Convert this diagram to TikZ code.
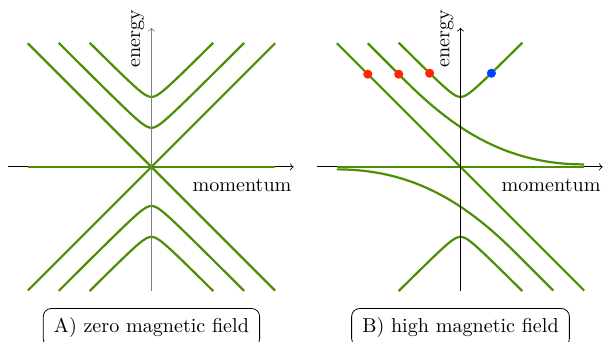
\documentclass[tikz,border=0pt]{standalone}
\usepackage{tikz}
\usetikzlibrary{positioning,calc}
\definecolor{bandgreen}{RGB}{78,142,6}
\definecolor{dotred}{RGB}{255,38,0}
\definecolor{dotblue}{RGB}{0,64,255}

\begin{document}
\begin{tikzpicture}[
x=0.54cm, y=0.54cm,
band/.style={
  draw=bandgreen,
  line width=1.1pt},
axis/.style={
  ->,
  thin},
spot/.style={
  circle,
  inner sep=1.6pt}, 
caption/.style={
  draw,
  inner xsep=5.3pt,
  inner ysep=4.5pt,
  rounded corners=4pt}
]
\useasboundingbox (-4.9,-5.66) rectangle (14.61,5.40);
% zero field
\draw[axis] (-4.65,0) coordinate (AL) -- (4.6,0) coordinate (AR);
\draw[band] (-4,0) -- (4,0);
\draw[band] (-4,4) -- (4,-4);
\draw[band] (-4,-4) -- (4,4);
\foreach \Sgn in {1,-1}
  \foreach \Off/\Half in {1/3,2/2}
    \draw[band, domain=-\Half:\Half, samples=81, smooth]
      plot (\x, {\Sgn*(\Off+sqrt(\x*\x+0.07))});
\draw[axis, gray] (0,-4) coordinate (AB) -- (0,4.5) coordinate (AT);
\node[rotate=90, anchor=south] (energyA) at (0,4.16) {energy};
\node[anchor=base] (momentumA) at (2.93,-0.81) {momentum};
\node[caption] (captionA) at (0,-5.2) {A) zero magnetic field};
% high field
\begin{scope}[shift={(10,0)}]
\draw[axis] (-4.65,0) coordinate (BL) -- (4.6,0) coordinate (BR);
\draw[band] (-4,0) -- (4,0);
\draw[band] (-4,4) -- (4,-4);
\draw[band] (-3,4) -- (-1.8,2.8) .. controls (-0.2,1.2) and (1.5,0.08) .. (4,0.08);
\draw[band] (3,-4) -- (1.8,-2.8) .. controls (0.2,-1.2) and (-1.5,-0.08) .. (-4,-0.08);
\foreach \Sgn in {1,-1}
  \draw[band, domain=-2:2, samples=81, smooth]
    plot (\x, {\Sgn*(2+sqrt(\x*\x+0.07))});
\draw[axis] (0,-4) coordinate (BB) -- (0,4.5) coordinate (BT);
\foreach \K/\Name in {-3/one,-2/two}
  \node[spot, fill=dotred] (red\Name) at (\K,3) {};
\node[spot, fill=dotred] (redthree) at (-1,3.03) {};
\node[spot, fill=dotblue] (blue) at (1,3.03) {};
\node[rotate=90, anchor=south] (energyB) at (0,4.16) {energy};
\node[anchor=base] (momentumB) at (2.93,-0.81) {momentum};
\node[caption] (captionB) at (0,-5.2) {B) high magnetic field};
\end{scope}
\end{tikzpicture}
\end{document}
